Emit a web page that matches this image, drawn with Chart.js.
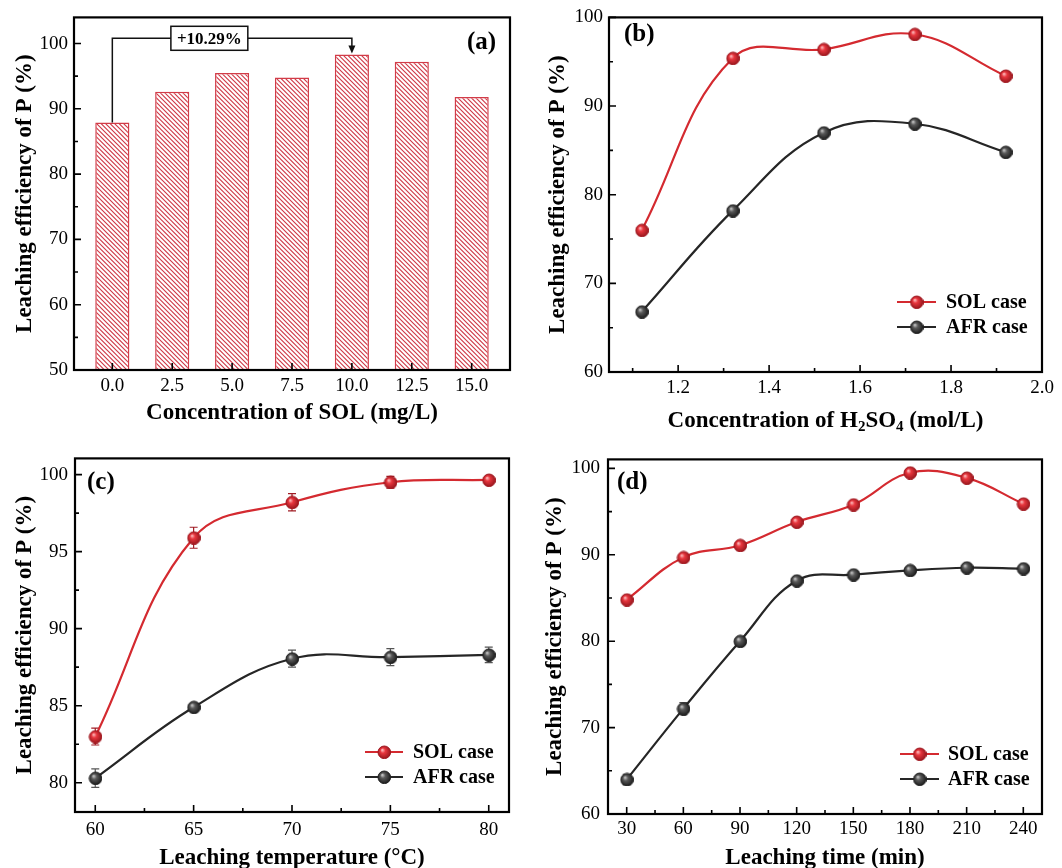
<!DOCTYPE html>
<html><head><meta charset="utf-8">
<script src="https://cdn.jsdelivr.net/npm/chart.js@4.4.1/dist/chart.umd.min.js"></script>
<style>
html,body{margin:0;padding:0;background:#fff;}
#wrap{position:relative;width:1062px;height:868px;overflow:hidden;background:#fff;}
canvas{position:absolute;display:block;}
</style></head><body>
<div id="wrap">
<canvas id="ca" width="531" height="432" style="left:0;top:0"></canvas>
<canvas id="cb" width="531" height="440" style="left:531px;top:0"></canvas>
<canvas id="cc" width="531" height="428" style="left:0;top:440px"></canvas>
<canvas id="cd" width="531" height="428" style="left:531px;top:440px"></canvas>
</div>
<script>
// ---------------- data ----------------
const solConc = [0, 2.5, 5.0, 7.5, 10.0, 12.5, 15.0];
const solEff  = [87.9, 92.6, 95.5, 94.8, 98.3, 97.2, 91.8];
const gainText = '+10.29%';
const gainFrom = 0, gainTo = 4, gainLevel = 100.8;
const yTicksA = [50,60,70,80,90,100];
const yMinorA = [55,65,75,85,95];

const h2so4 = [1.12,1.32,1.52,1.72,1.92];
const solB  = [76.0,95.4,96.4,98.1,93.4];
const afrB  = [66.8,78.2,87.0,88.0,84.8];
const errSolB = [0.3,0.4,0.4,0.4,0.5];
const errAfrB = [0.3,0.3,0.3,0.3,0.3];
const xTicksB = [1.2,1.4,1.6,1.8,2.0];
const xMinorB = [1.1,1.3,1.5,1.7,1.9];
const yTicksB = [60,70,80,90,100];
const yMinorB = [65,75,85,95];

const temp = [60,65,70,75,80];
const solC = [83.0,95.9,98.2,99.5,99.65];
const afrC = [80.3,84.9,88.05,88.15,88.3];
const errSolC = [0.55,0.68,0.56,0.38,0.2];
const errAfrC = [0.6,0.2,0.55,0.55,0.5];
const xTicksC = [60,65,70,75,80];
const xMinorC = [62.5,67.5,72.5,77.5];
const yTicksC = [80,85,90,95,100];
const yMinorC = [82.5,87.5,92.5,97.5];

const time = [30,60,90,120,150,180,210,240];
const solD = [84.8,89.7,91.1,93.8,95.8,99.5,98.9,95.9];
const afrD = [64.0,72.2,80.0,87.0,87.7,88.2,88.5,88.4];
const errSolD = [0.3,0.3,0.4,0.3,0.3,0.3,0.4,0.5];
const errAfrD = [0.6,0.7,0.3,0.3,0.3,0.3,0.3,0.3];
const xTicksD = [30,60,90,120,150,180,210,240];
const xMinorD = [45,75,105,135,165,195,225];
const yTicksD = [60,70,80,90,100];
const yMinorD = [65,75,85,95];

const seriesNames = ['SOL case','AFR case'];
const yTitle = 'Leaching efficiency of P (%)';

// ---------------- styles ----------------
const FONT = "'Liberation Serif','Times New Roman',serif";
const RED = '#d42a30', BLACK = '#262626';
Chart.defaults.font.family = FONT;
Chart.defaults.color = '#000';

function sphere(light, base, dark, edge, r){
  const c = document.createElement('canvas');
  const s = 2*r+2; c.width = s; c.height = s;
  const g = c.getContext('2d');
  const cx = s/2, cy = s/2;
  const gr = g.createRadialGradient(cx-r*0.35, cy-r*0.4, 0, cx, cy, r*1.15);
  gr.addColorStop(0, light); gr.addColorStop(0.35, base); gr.addColorStop(1, dark);
  g.fillStyle = gr; g.beginPath(); g.arc(cx,cy,r,0,Math.PI*2); g.fill();
  g.strokeStyle = edge; g.lineWidth = 1; g.stroke();
  return c;
}
const redBall = sphere('#ffd0d0','#e8363e','#8c1218','#a01820',6.3);
const blackBall = sphere('#d8d8d8','#5a5a5a','#111111','#222',6.3);

function hatch(){
  const n = 9;
  const c = document.createElement('canvas'); c.width = n; c.height = n;
  const g = c.getContext('2d');
  g.fillStyle = '#fff'; g.fillRect(0,0,n,n);
  g.strokeStyle = '#cf3a48'; g.lineWidth = 1.15;
  g.beginPath();
  [-9,-4.5,0,4.5,9].forEach(k=>{ g.moveTo(k-1,-1); g.lineTo(k+n+1,n+1); });
  g.stroke();
  return document.createElement('canvas').getContext('2d').createPattern(c,'repeat');
}

// ---------------- plugin ----------------
const deco = {
  id: 'deco',
  beforeDatasetsDraw(chart, args, o){
    const ctx = chart.ctx, ys = chart.scales.y;
    chart.data.datasets.forEach((ds,i)=>{
      if(!ds.errors) return;
      const meta = chart.getDatasetMeta(i);
      ctx.save();
      ctx.strokeStyle = ds.errColor; ctx.lineWidth = 1.2;
      ctx.beginPath();
      meta.data.forEach((pt,j)=>{
        const v = ds.data[j].y, e = ds.errors[j];
        const y1 = ys.getPixelForValue(v+e), y2 = ys.getPixelForValue(v-e);
        ctx.moveTo(pt.x,y1); ctx.lineTo(pt.x,y2);
        ctx.moveTo(pt.x-4,y1); ctx.lineTo(pt.x+4,y1);
        ctx.moveTo(pt.x-4,y2); ctx.lineTo(pt.x+4,y2);
      });
      ctx.stroke(); ctx.restore();
    });
  },
  afterDraw(chart, args, o){
    const ctx = chart.ctx, a = chart.chartArea;
    const xs = chart.scales.x, ys = chart.scales.y;
    ctx.save();
    // annotation (panel a)
    if(o.gain){
      const g = o.gain;
      const x0 = xs.getPixelForValue(solConc[g.from]), x1 = xs.getPixelForValue(solConc[g.to]);
      const yL = ys.getPixelForValue(g.level);
      const y0 = ys.getPixelForValue(solEff[g.from]), y1 = ys.getPixelForValue(solEff[g.to]);
      ctx.strokeStyle = '#111'; ctx.lineWidth = 1.5;
      ctx.beginPath();
      ctx.moveTo(x0,y0); ctx.lineTo(x0,yL); ctx.lineTo(x1,yL); ctx.lineTo(x1,y1-7);
      ctx.stroke();
      ctx.fillStyle = '#111';
      ctx.beginPath(); ctx.moveTo(x1-3.5,y1-9); ctx.lineTo(x1+3.5,y1-9); ctx.lineTo(x1,y1-1); ctx.closePath(); ctx.fill();
      const bx = x0 + (x1-x0)*0.405;
      ctx.font = 'bold 17px '+FONT;
      const tw = ctx.measureText(g.text).width;
      const bw = tw+12, bh = 24;
      ctx.fillStyle = '#fff'; ctx.fillRect(bx-bw/2, yL-bh/2, bw, bh);
      ctx.strokeRect(bx-bw/2, yL-bh/2, bw, bh);
      ctx.fillStyle = '#000'; ctx.textAlign = 'center'; ctx.textBaseline = 'middle';
      ctx.fillText(g.text, bx, yL+1);
    }
    // frame and inward ticks
    ctx.strokeStyle = '#000'; ctx.lineWidth = 1.6;
    ctx.beginPath();
    xs.ticks.forEach((t,i)=>{ const px = xs.getPixelForValue(t.value); ctx.moveTo(px,a.bottom); ctx.lineTo(px,a.bottom-7); });
    (o.xMinor||[]).forEach(v=>{ const px = xs.getPixelForValue(v); ctx.moveTo(px,a.bottom); ctx.lineTo(px,a.bottom-4); });
    ys.ticks.forEach((t,i)=>{ const py = ys.getPixelForValue(t.value); ctx.moveTo(a.left,py); ctx.lineTo(a.left+7,py); });
    (o.yMinor||[]).forEach(v=>{ const py = ys.getPixelForValue(v); ctx.moveTo(a.left,py); ctx.lineTo(a.left+4,py); });
    ctx.stroke();
    ctx.lineWidth = 2.2;
    ctx.strokeRect(a.left, a.top, a.right-a.left, a.bottom-a.top);
    // panel label
    ctx.fillStyle = '#000';
    ctx.font = 'bold 25px '+FONT; ctx.textAlign = 'left'; ctx.textBaseline = 'middle';
    ctx.fillText(o.label.text, o.label.x, o.label.y);
    // legend
    if(o.legend){
      const L = o.legend;
      chart.data.datasets.forEach((ds,i)=>{
        const y = L.y + i*L.dy;
        ctx.strokeStyle = ds.borderColor; ctx.lineWidth = 2.2;
        ctx.beginPath(); ctx.moveTo(L.x,y); ctx.lineTo(L.x+L.len,y); ctx.stroke();
        const img = ds.pointStyle;
        ctx.drawImage(img, L.x+L.len/2-img.width/2, y-img.height/2);
        ctx.fillStyle = '#000'; ctx.font = 'bold 20px '+FONT;
        ctx.textAlign='left'; ctx.textBaseline='middle';
        ctx.fillText(ds.label, L.tx, y+1);
      });
    }
    // subscript x title
    if(o.subTitle){
      const parts = o.subTitle.parts;
      const main = 'bold 23px '+FONT, sub = 'bold 15px '+FONT;
      let w = 0;
      parts.forEach(p=>{ ctx.font = p[1]?sub:main; w += ctx.measureText(p[0]).width; });
      let x = (a.left+a.right)/2 - w/2;
      ctx.textAlign='left'; ctx.textBaseline='middle'; ctx.fillStyle='#000';
      parts.forEach(p=>{ ctx.font = p[1]?sub:main; ctx.fillText(p[0], x, o.subTitle.y + (p[1]?6:0)); x += ctx.measureText(p[0]).width; });
    }
    ctx.restore();
  }
};
Chart.register(deco);

function fixTicks(list){ return s => { s.ticks = list.map(v=>({value:v})); }; }

function lineChart(id, xs, sol, afr, eSol, eAfr, cfg){
  const mk = arr => xs.map((x,i)=>({x:x, y:arr[i]}));
  new Chart(document.getElementById(id), {
    type:'line',
    data:{ datasets:[
      {label:seriesNames[0], data:mk(sol), errors:eSol, errColor:'#a01c24', borderColor:RED, borderWidth:2.2, pointStyle:redBall, pointRadius:6, tension:0.4, fill:false},
      {label:seriesNames[1], data:mk(afr), errors:eAfr, errColor:'#555', borderColor:BLACK, borderWidth:2.2, pointStyle:blackBall, pointRadius:6, tension:0.4, fill:false}
    ]},
    options:{
      responsive:false, animation:false, events:[],
      layout:{padding:{left:0, top:cfg.T, right:cfg.R, bottom:0}},
      plugins:{legend:{display:false}, tooltip:{enabled:false},
        deco:{xMinor:cfg.xMinor, yMinor:cfg.yMinor, label:cfg.label, legend:cfg.legend, subTitle:cfg.subTitle}},
      scales:{
        x:{type:'linear', min:cfg.xMin, max:cfg.xMax, grid:{display:false, drawTicks:false}, border:{display:false},
           afterBuildTicks:fixTicks(cfg.xTicks), afterFit:s=>{s.height=cfg.XH;},
           ticks:{font:{size:19}, padding:cfg.xPad, maxRotation:0, autoSkip:false, callback:cfg.xFmt||(v=>v)},
           title:{display:!!cfg.xTitle, text:cfg.xTitle||'', font:{size:23, weight:'bold'}, padding:{top:0,bottom:cfg.xTPad}}},
        y:{type:'linear', min:cfg.yMin, max:cfg.yMax, grid:{display:false, drawTicks:false}, border:{display:false},
           afterBuildTicks:fixTicks(cfg.yTicks), afterFit:s=>{s.width=cfg.L;},
           ticks:{font:{size:19}, padding:cfg.yPad, callback:v=>v},
           title:{display:true, text:yTitle, font:{size:23, weight:'bold'}, padding:{top:cfg.yTPad, bottom:0}}}
      }
    }
  });
}

// ---------------- panel a ----------------
new Chart(document.getElementById('ca'), {
  type:'bar',
  data:{ datasets:[{data:solConc.map((x,i)=>({x:x, y:solEff[i]})), backgroundColor:hatch(), borderColor:'#d23c48', borderWidth:1.5, barPercentage:0.57, categoryPercentage:1}]},
  options:{
    responsive:false, animation:false, events:[],
    layout:{padding:{left:0, top:16, right:21, bottom:0}},
    plugins:{legend:{display:false}, tooltip:{enabled:false},
      deco:{yMinor:yMinorA, label:{text:'(a)', x:467, y:43}, gain:{from:gainFrom, to:gainTo, level:gainLevel, text:gainText}}},
    scales:{
      x:{type:'linear', min:-1.6, max:16.6, offset:false, grid:{display:false, drawTicks:false, offset:false}, border:{display:false},
         afterBuildTicks:fixTicks(solConc), afterFit:s=>{s.height=62;},
         ticks:{font:{size:19}, padding:5, maxRotation:0, autoSkip:false, callback:v=>Number(v).toFixed(1)},
         title:{display:true, text:'Concentration of SOL (mg/L)', font:{size:23, weight:'bold'}, padding:{top:0,bottom:5}}},
      y:{min:50, max:104, grid:{display:false, drawTicks:false}, border:{display:false},
         afterBuildTicks:fixTicks(yTicksA), afterFit:s=>{s.width=74;},
         ticks:{font:{size:19}, padding:6},
         title:{display:true, text:yTitle, font:{size:23, weight:'bold'}, padding:{top:11,bottom:0}}}
    }
  }
});

// ---------------- panel b ----------------
lineChart('cb', h2so4, solB, afrB, errSolB, errAfrB, {
  T:16, R:20, L:78, XH:68, xPad:5, yPad:6, yTPad:13, xTPad:0,
  xMin:1.048, xMax:2.0, xTicks:xTicksB, xMinor:xMinorB, xFmt:v=>Number(v).toFixed(1),
  yMin:60, yMax:100, yTicks:yTicksB, yMinor:yMinorB,
  label:{text:'(b)', x:93, y:35},
  legend:{x:366, len:39, tx:415, y:302, dy:25},
  subTitle:{y:421, parts:[['Concentration of H',0],['2',1],['SO',0],['4',1],[' (mol/L)',0]]}
});

// ---------------- panel c ----------------
lineChart('cc', temp, solC, afrC, errSolC, errAfrC, {
  T:18, R:22, L:75, XH:56, xPad:7, yPad:7, yTPad:11, xTPad:-4,
  xMin:58.97, xMax:81.03, xTicks:xTicksC, xMinor:xMinorC, xTitle:'Leaching temperature (°C)',
  yMin:78.1, yMax:101.05, yTicks:yTicksC, yMinor:yMinorC,
  label:{text:'(c)', x:87, y:43},
  legend:{x:365, len:38, tx:413, y:312, dy:25}
});

// ---------------- panel d ----------------
lineChart('cd', time, solD, afrD, errSolD, errAfrD, {
  T:18, R:20, L:77, XH:54, xPad:4, yPad:8, yTPad:10, xTPad:-4,
  xMin:20.1, xMax:249.9, xTicks:xTicksD, xMinor:xMinorD, xTitle:'Leaching time (min)',
  yMin:60, yMax:101.04, yTicks:yTicksD, yMinor:yMinorD,
  label:{text:'(d)', x:86, y:43},
  legend:{x:369, len:39, tx:417, y:314, dy:25}
});
</script>
</body></html>
